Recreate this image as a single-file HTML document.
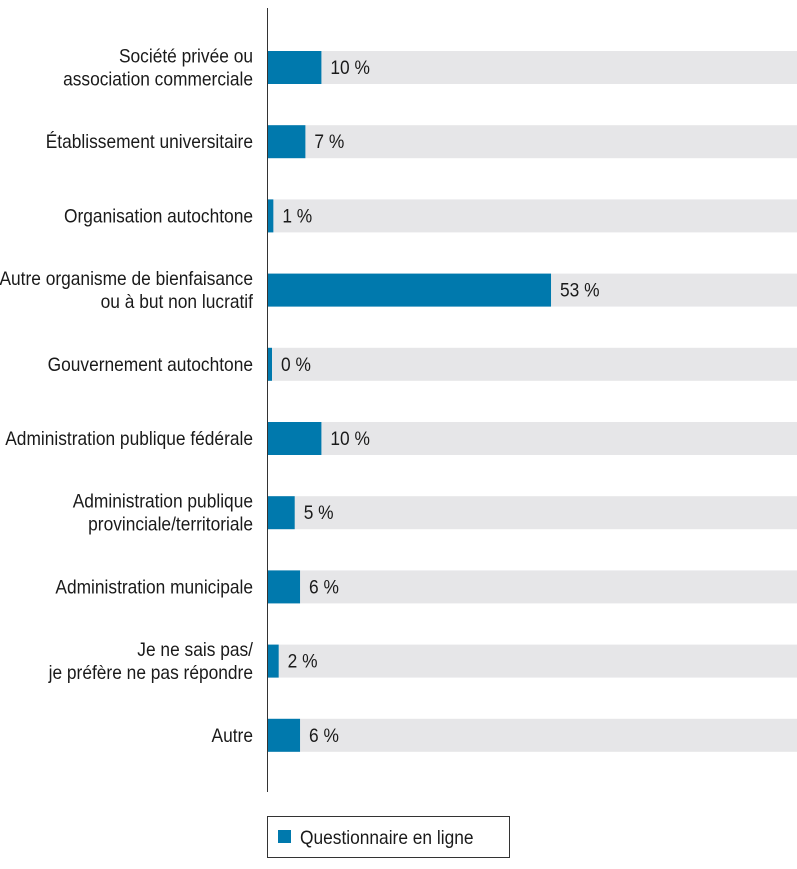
<!DOCTYPE html>
<html><head><meta charset="utf-8"><style>
body{margin:0;background:#fff;width:797px;height:864px;overflow:hidden}
svg text{font-family:"Liberation Sans",Arial,sans-serif;fill:#1a1a1a}
</style></head><body>
<svg id="chart" width="797" height="864" xmlns="http://www.w3.org/2000/svg"></svg>
<script>
const categories=[["Société privée ou","association commerciale"],["Établissement universitaire"],["Organisation autochtone"],["Autre organisme de bienfaisance","ou à but non lucratif"],["Gouvernement autochtone"],["Administration publique fédérale"],["Administration publique","provinciale/territoriale"],["Administration municipale"],["Je ne sais pas/","je préfère ne pas répondre"],["Autre"]];
const values=[10,7,1,53,0.7,10,5,6,2,6];
const valueLabels=["10 %","7 %","1 %","53 %","0 %","10 %","5 %","6 %","2 %","6 %"];
const NS="http://www.w3.org/2000/svg";
const svg=document.getElementById('chart');
const x0=268, pxPer=5.34, FS=19, SX=0.913;
const xScale=v=>x0+v*pxPer;
const yCenter=i=>67+i*74.2;
function mk(tag,attrs){const e=document.createElementNS(NS,tag);for(const k in attrs)e.setAttribute(k,attrs[k]);svg.appendChild(e);return e;}
function tr(x){return `translate(${x*(1-SX)},0) scale(${SX},1)`;}
categories.forEach((lab,i)=>{
  const yc=yCenter(i);
  const bg=mk('rect',{x:x0,y:yc-16,width:797-x0,height:33,fill:'#e6e6e8'});
  
  
  const b=mk('rect',{x:x0,y:yc-16,width:Math.max(xScale(values[i])-x0,4),height:33,fill:'#0079ad'});
  
  
  const vx=Math.max(xScale(values[i]),x0+4)+9;
  const vt=mk('text',{x:vx,y:yc+7,'font-size':FS,transform:tr(vx)});
  vt.textContent=valueLabels[i];
  
  
  const n=lab.length;
  lab.forEach((l,j)=>{
    const y=yc+7+(j-(n-1)/2)*23;
    const t=mk('text',{x:253,y:y,'font-size':FS,'text-anchor':'end',transform:tr(253)});
    t.textContent=l;
    
    
  });
});
const ax=mk('line',{x1:267.5,y1:8,x2:267.5,y2:792,stroke:'#333','stroke-width':1});


const lg=mk('rect',{x:267.5,y:816.5,width:242,height:41,fill:'#fff',stroke:'#333'});


const ls=mk('rect',{x:278,y:830,width:13,height:13,fill:'#0079ad'});


const lt=mk('text',{x:300,y:844,'font-size':FS,transform:tr(300)});
lt.textContent="Questionnaire en ligne";


</script>
</body></html>
